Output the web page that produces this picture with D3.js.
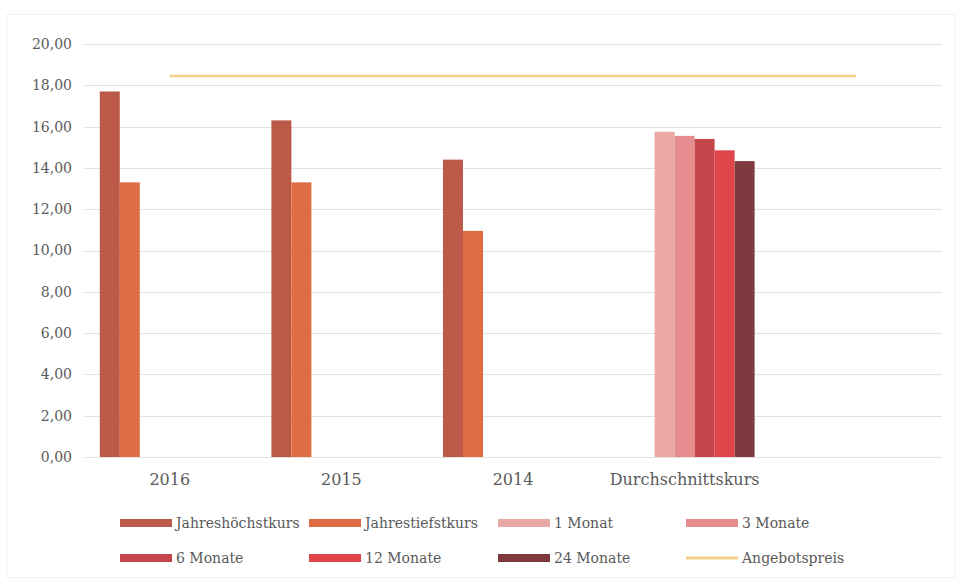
<!DOCTYPE html>
<html lang="de">
<head>
  <meta charset="UTF-8">
  <title>Kurse</title>
  <script src="https://d3js.org/d3.v7.min.js"></script>
  <style>
    html, body {
      margin: 0;
      padding: 0;
      background: #fff;
      overflow: hidden;
    }
    svg text {
      font-family: "DejaVu Serif", serif;
      fill: #5a5a5a;
    }
  </style>
</head>
<body>
  <svg id="chart" width="959" height="581"></svg>
  <script>
    const categories = ['2016', '2015', '2014', 'Durchschnittskurs', ''];
    const seriesNames = ['Jahreshöchstkurs', 'Jahrestiefstkurs', '1 Monat', '3 Monate',
      '6 Monate', '12 Monate', '24 Monate'];
    const jahreshoechst = [17.7, 16.3, 14.4, null, null];
    const jahrestiefst = [13.3, 13.3, 10.95, null, null];
    const monat1 = [null, null, null, 15.75, null];
    const monate3 = [null, null, null, 15.55, null];
    const monate6 = [null, null, null, 15.4, null];
    const monate12 = [null, null, null, 14.85, null];
    const monate24 = [null, null, null, 14.33, null];
    const angebotspreis = [18.45, 18.45, 18.45, 18.45, 18.45];
    const yTicks = [0, 2, 4, 6, 8, 10, 12, 14, 16, 18, 20];

    const barSeries = [jahreshoechst, jahrestiefst, monat1, monate3, monate6, monate12, monate24];
    const colors = ['#bb5a48', '#df6c43', '#eaa9a5', '#e68e8f', '#c4464b', '#e0454b', '#7e3a3e'];
    const lineColor = '#f3cf88';

    const svg = d3.select('#chart');
    const margin = {left: 84, right: 17, top: 44, bottom: 124};
    const W = 959, H = 581;

    // faint frame of the scanned chart
    svg.append('rect')
      .attr('x', 6.5).attr('y', 14.5)
      .attr('width', W - 10).attr('height', H - 18)
      .attr('fill', 'none').attr('stroke', '#f1f1f1');

    const x0 = d3.scaleBand()
      .domain(categories)
      .range([margin.left, W - margin.right])
      .padding(0);

    const x1 = d3.scaleBand()
      .domain(d3.range(seriesNames.length))
      .range([0, x0.bandwidth()])
      .paddingInner(0)
      .paddingOuter(0.79);

    const y = d3.scaleLinear()
      .domain([0, 20])
      .range([H - margin.bottom, margin.top]);

    // gridlines
    svg.append('g')
      .selectAll('line')
      .data(yTicks)
      .join('line')
      .attr('x1', margin.left)
      .attr('x2', W - margin.right)
      .attr('y1', d => Math.round(y(d)) + 0.5)
      .attr('y2', d => Math.round(y(d)) + 0.5)
      .attr('stroke', '#e2e2e2')
      .attr('stroke-width', 1);

    // y axis labels
    const yAxis = d3.axisLeft(y)
      .tickValues(yTicks)
      .tickSize(0)
      .tickPadding(12)
      .tickFormat(d => d3.format('.2f')(d).replace('.', ','));
    svg.append('g')
      .attr('transform', `translate(${margin.left},0)`)
      .call(yAxis)
      .call(g => g.select('.domain').remove())
      .selectAll('text')
      .style('font-size', '14px');

    // bars
    const rows = [];
    barSeries.forEach((vals, s) => {
      vals.forEach((v, c) => {
        if (v != null) rows.push({s, c, v});
      });
    });

    svg.append('g')
      .selectAll('rect')
      .data(rows)
      .join('rect')
      .attr('x', d => x0(categories[d.c]) + x1(d.s))
      .attr('width', x1.bandwidth())
      .attr('y', d => y(d.v))
      .attr('height', d => y(0) - y(d.v))
      .attr('fill', d => colors[d.s]);

    // Angebotspreis line
    const line = d3.line()
      .x((d, i) => x0(categories[i]) + x0.bandwidth() / 2)
      .y(d => y(d));
    svg.append('path')
      .datum(angebotspreis)
      .attr('d', line)
      .attr('fill', 'none')
      .attr('stroke', lineColor)
      .attr('stroke-width', 2.5);

    // x axis labels
    const xAxis = d3.axisBottom(x0).tickSize(0).tickPadding(17);
    svg.append('g')
      .attr('transform', `translate(0,${y(0)})`)
      .call(xAxis)
      .call(g => g.select('.domain').remove())
      .selectAll('text')
      .style('font-size', '16px');

    // legend
    const legendItems = seriesNames.map((name, i) => ({name, color: colors[i], type: 'bar'}));
    legendItems.push({name: 'Angebotspreis', color: lineColor, type: 'line'});
    const colX = [120, 309, 498, 686];
    const rowY = [523, 558];

    const leg = svg.append('g')
      .selectAll('g')
      .data(legendItems)
      .join('g')
      .attr('transform', (d, i) => `translate(${colX[i % 4]},${rowY[Math.floor(i / 4)]})`);

    leg.append('rect')
      .attr('x', 0)
      .attr('y', d => d.type === 'bar' ? -4 : -1.5)
      .attr('width', 52)
      .attr('height', d => d.type === 'bar' ? 8 : 3)
      .attr('fill', d => d.color);

    leg.append('text')
      .attr('x', 56)
      .attr('y', 0)
      .attr('dy', '0.35em')
      .style('font-size', '14px')
      .text(d => d.name);
  </script>
</body>
</html>
